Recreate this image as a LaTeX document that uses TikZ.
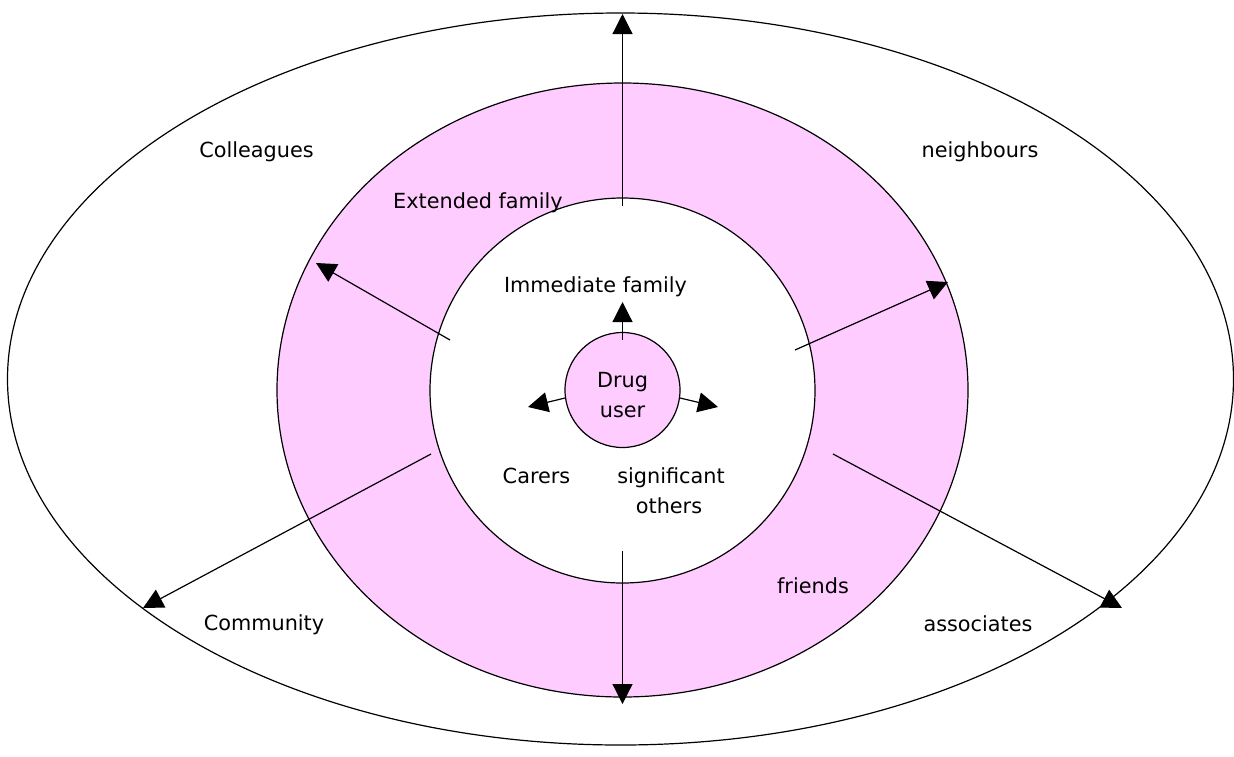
\documentclass[tikz,border=0pt]{standalone}
\usepackage{fontspec}
\setmainfont{DejaVu Sans}
\usetikzlibrary{arrows.meta}
\definecolor{ringpink}{HTML}{FFCCFF}
\begin{document}
\begin{tikzpicture}[x=1pt,y=-1pt,
  ring/.style={draw=black,line width=1.2pt},
  arr/.style={draw=black,line width=1.2pt,-{Triangle[length=20pt,width=20pt]}},
  lbl/.style={anchor=base,inner sep=0pt,font=\fontsize{20.8pt}{30pt}\selectfont}]
\useasboundingbox (0,0) rectangle (1234,756);
\fill[white] (0,0) rectangle (1234,756);
% rings
\draw[ring,fill=white] (620.5,379) ellipse [x radius=613, y radius=366];
\draw[ring,fill=ringpink] (622.5,390) ellipse [x radius=345.5, y radius=307];
\draw[ring,fill=white] (622.5,390.5) circle [radius=192.5];
% coordinates for connectors
\coordinate (upS) at (622.5,206);  \coordinate (upE) at (622.5,14);
\coordinate (dnS) at (622.5,551);  \coordinate (dnE) at (622.5,704);
\coordinate (ulS) at (450,340);    \coordinate (ulE) at (316,263);
\coordinate (urS) at (795,350);    \coordinate (urE) at (948,282);
\coordinate (llS) at (431,454);    \coordinate (llE) at (143,608);
\coordinate (lrS) at (833,454);    \coordinate (lrE) at (1122,608);
\coordinate (imS) at (622.5,340);  \coordinate (imE) at (622.5,302);
\coordinate (caS) at (565,398);    \coordinate (caE) at (528,407);
\coordinate (soS) at (680,398);    \coordinate (soE) at (718,407);
% centre
\node[ring,fill=ringpink,circle,minimum size=115pt,inner sep=0pt] (user) at (622.5,390) {};
% arrows
\draw[arr] (upS) -- (upE);
\draw[arr] (dnS) -- (dnE);
\draw[arr] (ulS) -- (ulE);
\draw[arr] (urS) -- (urE);
\draw[arr] (llS) -- (llE);
\draw[arr] (lrS) -- (lrE);
\draw[arr] (imS) -- (imE);
\draw[arr] (caS) -- (caE);
\draw[arr] (soS) -- (soE);
% labels
\node[lbl] (colleagues) at (256.5,157) {Colleagues};
\node[lbl] (neighbours) at (980,157) {neighbours};
\node[lbl] (extended) at (478,208) {Extended family};
\node[lbl] (immediate) at (595.5,292) {Immediate family};
\node[lbl] (drug) at (622.5,387) {Drug};
\node[lbl] (userl) at (622.5,417) {user};
\node[lbl] (carers) at (536.5,483) {Carers};
\node[lbl] (significant) at (671,483) {significant};
\node[lbl] (others) at (669,513) {others};
\node[lbl] (friends) at (813,593) {friends};
\node[lbl] (community) at (264,630) {Community};
\node[lbl] (associates) at (978,631) {associates};
\end{tikzpicture}
\end{document}
